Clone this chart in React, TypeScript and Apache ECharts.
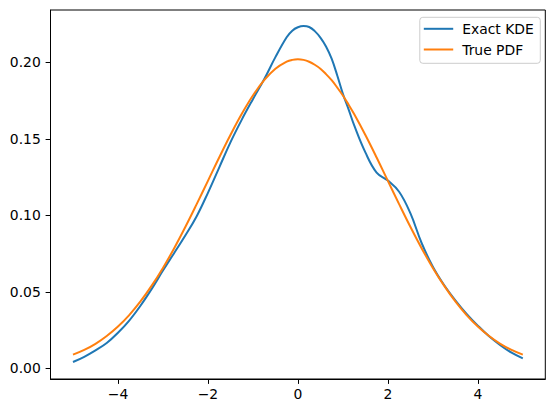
import React, { useEffect, useRef } from "react";
import * as echarts from "echarts";

const xValues = [
  -5, -4.75, -4.5, -4.25, -4, -3.75, -3.5, -3.25, -3, -2.75, -2.5, -2.25, -2, -1.75, -1.5, -1.25, -1, -0.75, -0.5, -0.25,
  -0.125, 0, 0.125, 0.25, 0.375, 0.5, 0.625, 0.75, 0.875, 1, 1.125, 1.25, 1.5, 1.75, 2, 2.25, 2.5, 2.75, 3, 3.25, 3.5,
  3.75, 4, 4.25, 4.5, 4.75, 5,
];

const kdeValues = [
  0.0042, 0.0076, 0.0118, 0.0166, 0.0233, 0.0313, 0.041, 0.052, 0.064, 0.0755, 0.087, 0.0995, 0.1148, 0.1313, 0.1478,
  0.1625, 0.176, 0.189, 0.2035, 0.2165, 0.2208, 0.223, 0.2238, 0.2232, 0.2205, 0.2163, 0.2105, 0.2025, 0.1915, 0.1795,
  0.1695, 0.159, 0.1412, 0.128, 0.1228, 0.1155, 0.1015, 0.082, 0.0665, 0.0545, 0.0445, 0.0357, 0.028, 0.021, 0.0152,
  0.0103, 0.0066,
];

const pdfValues = [
  0.009, 0.0121, 0.0161, 0.0212, 0.0274, 0.0349, 0.0438, 0.0541, 0.0657, 0.0786, 0.0926, 0.1074, 0.1226, 0.1379, 0.1526,
  0.1663, 0.1784, 0.1884, 0.1959, 0.2005, 0.2017, 0.2021, 0.2017, 0.2005, 0.1985, 0.1959, 0.1924, 0.1884, 0.1836,
  0.1784, 0.1725, 0.1663, 0.1526, 0.1379, 0.1226, 0.1074, 0.0926, 0.0786, 0.0657, 0.0541, 0.0438, 0.0349, 0.0274,
  0.0212, 0.0161, 0.0121, 0.009,
];

const xTicks = [-4, -2, 0, 2, 4];
const yTicks = [0, 0.05, 0.1, 0.15, 0.2];
const seriesNames = ["Exact KDE", "True PDF"];

const FONT = "DejaVu Sans";

export default function App() {
  const ref = useRef<HTMLDivElement>(null);

  useEffect(() => {
    if (!ref.current) return;
    const chart = echarts.init(ref.current, null, { renderer: "svg" });
    const kde = xValues.map((x, i) => [x, kdeValues[i]]);
    const pdf = xValues.map((x, i) => [x, pdfValues[i]]);
    chart.setOption({
      animation: false,
      grid: {
        left: 50.5,
        right: 10.7,
        top: 10,
        bottom: 34,
        show: true,
        borderColor: "#000",
        borderWidth: 1,
        backgroundColor: "transparent",
      },
      xAxis: {
        type: "value",
        min: -5.5,
        max: 5.5,
        splitLine: { show: false },
        axisLine: { show: true, onZero: false, lineStyle: { color: "#000", width: 1 } },
        axisTick: {
          show: true,
          inside: false,
          length: 4.9,
          lineStyle: { color: "#000", width: 1 },
          customValues: xTicks,
        },
        axisLabel: {
          customValues: xTicks,
          margin: 7.5,
          color: "#000",
          fontSize: 13.9,
          fontFamily: FONT,
          formatter: (v: number) => String(v).replace("-", "\u2212"),
        },
      },
      yAxis: {
        type: "value",
        min: -0.0069,
        max: 0.2343,
        splitLine: { show: false },
        axisLine: { show: true, onZero: false, lineStyle: { color: "#000", width: 1 } },
        axisTick: {
          show: true,
          inside: false,
          length: 4.9,
          lineStyle: { color: "#000", width: 1 },
          customValues: yTicks,
        },
        axisLabel: {
          customValues: yTicks,
          margin: 9.7,
          color: "#000",
          fontSize: 13.9,
          fontFamily: FONT,
          formatter: (v: number) => v.toFixed(2),
        },
      },
      legend: {
        data: seriesNames,
        orient: "vertical",
        right: 15.7,
        top: 17.3,
        icon: "rect",
        itemWidth: 29.4,
        itemHeight: 2,
        itemGap: 4.7,
        padding: [3.5, 6.5, 5.8, 4],
        borderColor: "#cccccc",
        borderWidth: 1,
        borderRadius: 3,
        backgroundColor: "rgba(255,255,255,0.8)",
        textStyle: {
          fontSize: 13.9,
          lineHeight: 16,
          color: "#000",
          fontFamily: FONT,
          padding: [0, 0, 0, 4],
        },
      },
      series: [
        {
          name: seriesNames[0],
          type: "line",
          data: kde,
          smooth: 0.4,
          showSymbol: false,
          symbol: "none",
          color: "#1f77b4",
          lineStyle: { color: "#1f77b4", width: 2 },
          z: 2,
        },
        {
          name: seriesNames[1],
          type: "line",
          data: pdf,
          smooth: 0.4,
          showSymbol: false,
          symbol: "none",
          color: "#ff7f0e",
          lineStyle: { color: "#ff7f0e", width: 2 },
          z: 3,
        },
      ],
    });
    return () => chart.dispose();
  }, []);

  return <div ref={ref} style={{ width: 556, height: 413, margin: -8 }} />;
}
